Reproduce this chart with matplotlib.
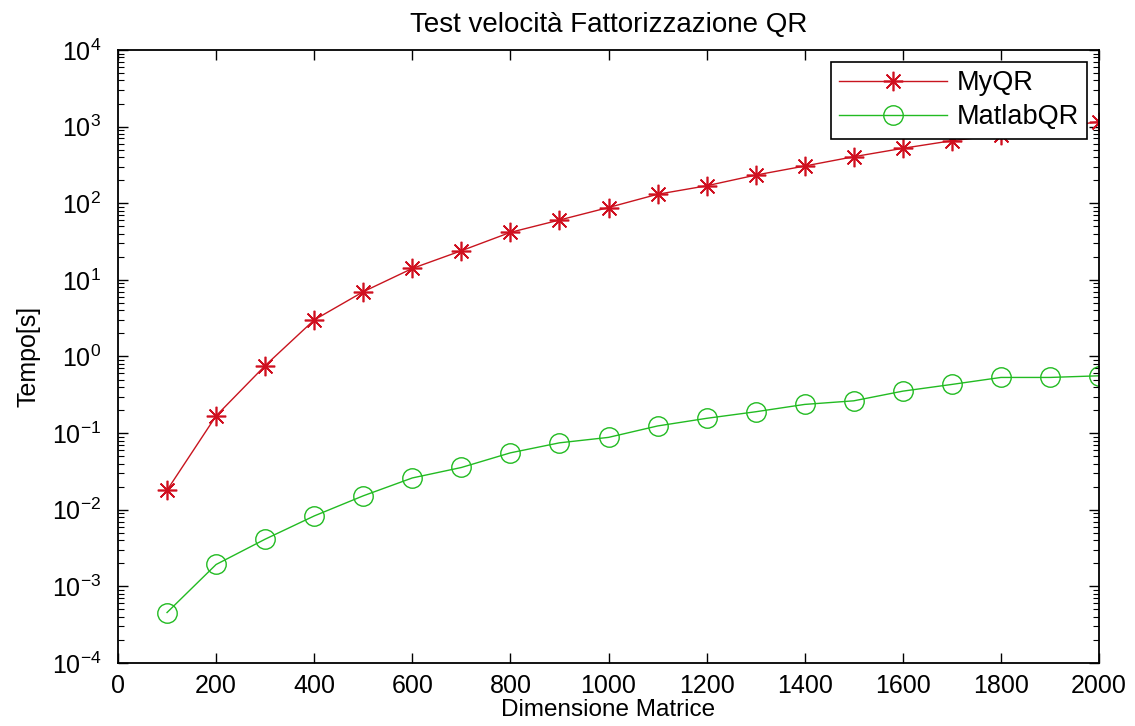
import matplotlib
matplotlib.use("Agg")
import matplotlib.pyplot as plt
from matplotlib.ticker import LogLocator, FixedLocator, NullLocator

plt.rcParams['font.family'] = ['Liberation Sans', 'DejaVu Sans']
plt.rcParams['mathtext.fontset'] = 'custom'
plt.rcParams['mathtext.rm'] = 'Liberation Sans'

# matrix sizes
dims = [100, 200, 300, 400, 500, 600, 700, 800, 900, 1000,
        1100, 1200, 1300, 1400, 1500, 1600, 1700, 1800, 1900, 2000]

# timings in seconds
my_qr = [0.018, 0.168, 0.76, 3.0, 7.0, 14.1, 24.0, 41.7, 60.4, 88.0,
         131.0, 169.0, 233.0, 306.0, 405.0, 521.0, 655.0, 777.0, 950.0, 1159.0]
matlab_qr = [4.56e-4, 1.93e-3, 4.13e-3, 8.3e-3, 0.0152, 0.026, 0.0356, 0.0553, 0.0747, 0.088,
             0.124, 0.156, 0.19, 0.237, 0.264, 0.353, 0.432, 0.533, 0.533, 0.56]

xticks = list(range(0, 2001, 200))
yticks = [10.0 ** e for e in range(-4, 5)]

fig = plt.figure(figsize=(11.35, 7.26), dpi=100)
ax = fig.add_axes([118/1135, 1 - 663/726, (1099-118)/1135, (663-50)/726])

ax.semilogy(dims, my_qr, color='#c8141e', linewidth=1,
            marker=(8, 2, 0), markersize=14, markeredgewidth=1.2,
            markeredgecolor='#d01020', label='MyQR')
ax.semilogy(dims, matlab_qr, color='#22bb22', linewidth=1,
            marker='o', markersize=14, markerfacecolor='none',
            markeredgewidth=1, markeredgecolor='#22bb22', label='MatlabQR')

ax.set_xlim(0, 2000)
ax.set_ylim(1e-4, 1e4)
ax.xaxis.set_major_locator(FixedLocator(xticks))
ax.xaxis.set_minor_locator(NullLocator())
ax.yaxis.set_major_locator(FixedLocator(yticks))
ax.yaxis.set_minor_locator(FixedLocator([m * t for t in yticks[:-1] for m in range(2, 10)]))

ax.tick_params(which='both', direction='in', top=True, right=True,
               labelsize=18, colors='black')
ax.tick_params(which='major', length=7, width=1)
ax.tick_params(which='minor', length=4, width=0.8, labelleft=False)
ax.tick_params(axis='x', which='major', pad=8)
ax.tick_params(axis='y', which='major', pad=12)
for sp in ax.spines.values():
    sp.set_linewidth(1.3)

ax.set_title('Test velocità Fattorizzazione QR', fontsize=20, pad=13)
ax.set_xlabel('Dimensione Matrice', fontsize=17.5, labelpad=1)
ax.set_ylabel('Tempo[s]', fontsize=18, labelpad=8)

leg = ax.legend(loc='upper right', fontsize=19.5, handlelength=4.0,
                handletextpad=0.35, fancybox=False, framealpha=1,
                edgecolor='black', borderaxespad=0.45, labelspacing=0.3,
                borderpad=0.3)
leg.get_frame().set_linewidth(1.2)

fig.savefig('out.png', dpi=100)
